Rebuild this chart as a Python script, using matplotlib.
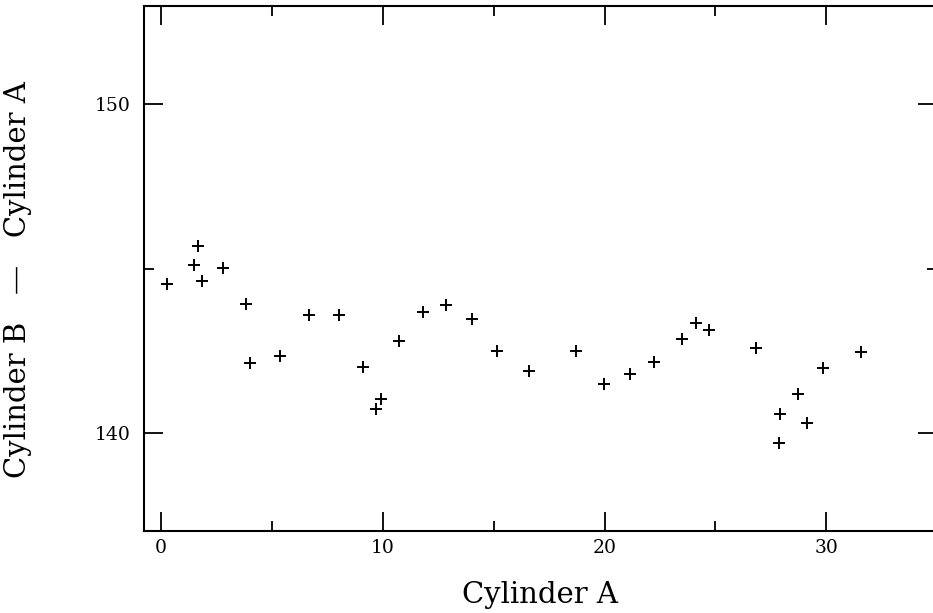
import matplotlib
matplotlib.use("Agg")
import matplotlib.pyplot as plt
from matplotlib.ticker import MultipleLocator

cyl_a = [0.26, 1.46, 1.64, 1.84, 2.78, 3.82, 4.01, 5.35, 6.68, 8.00,
         9.11, 9.68, 9.91, 10.73, 11.83, 12.87, 14.01, 15.16, 16.60, 18.72,
         19.98, 21.17, 22.21, 23.50, 24.12, 24.70, 26.82, 27.92, 27.89, 28.73,
         29.13, 29.85, 31.57]
diff_ba = [144.52, 145.10, 145.70, 144.62, 145.01, 143.91, 142.12, 142.32, 143.58, 143.58,
           142.00, 140.71, 141.03, 142.78, 143.68, 143.88, 143.46, 142.48, 141.88, 142.48,
           141.48, 141.77, 142.15, 142.85, 143.35, 143.14, 142.57, 140.58, 139.69, 141.17,
           140.28, 141.96, 142.45]

xticks = [0, 10, 20, 30]
yticks = [140, 150]

plt.rcParams['font.family'] = ['DejaVu Serif']

fig = plt.figure(figsize=(9.33, 6.13), dpi=100)
ax = fig.add_axes([143.5 / 933, 82 / 613, (937 - 143.5) / 933, (531 - 6) / 613])

ax.plot(cyl_a, diff_ba, linestyle='none', marker='+', color='black',
        markersize=9, markeredgewidth=1.4)

ax.set_xlim(-0.8, 35.0)
ax.set_ylim(137.0, 153.0)
ax.set_xticks(xticks)
ax.set_yticks(yticks)
ax.xaxis.set_minor_locator(MultipleLocator(5))
ax.yaxis.set_minor_locator(MultipleLocator(5))
ax.tick_params(which='both', direction='in', top=True, right=True, width=1.3,
               colors='black', labelsize=13.5)
ax.tick_params(which='major', length=14)
ax.tick_params(axis='x', which='major', pad=6)
ax.tick_params(axis='y', which='major', pad=9)
ax.tick_params(which='minor', length=7)
for s in ax.spines.values():
    s.set_linewidth(1.5)

lab_font = dict(family=['DejaVu Serif'], size=21)
ax.set_xlabel('Cylinder A', fontdict=lab_font)
ax.xaxis.set_label_coords((540 - 143.5) / 793.5, (613 - 595 - 82) / 525)
ax.xaxis.label.set_va('center')
ax.set_ylabel('Cylinder B   \u2014   Cylinder A', fontdict=lab_font)
ax.yaxis.set_label_coords((17.5 - 143.5) / 793.5, (531 - 279.5) / 525)
ax.yaxis.label.set_va('center')
ax.yaxis.label.set_ha('center')

fig.savefig('out.png', dpi=100)
